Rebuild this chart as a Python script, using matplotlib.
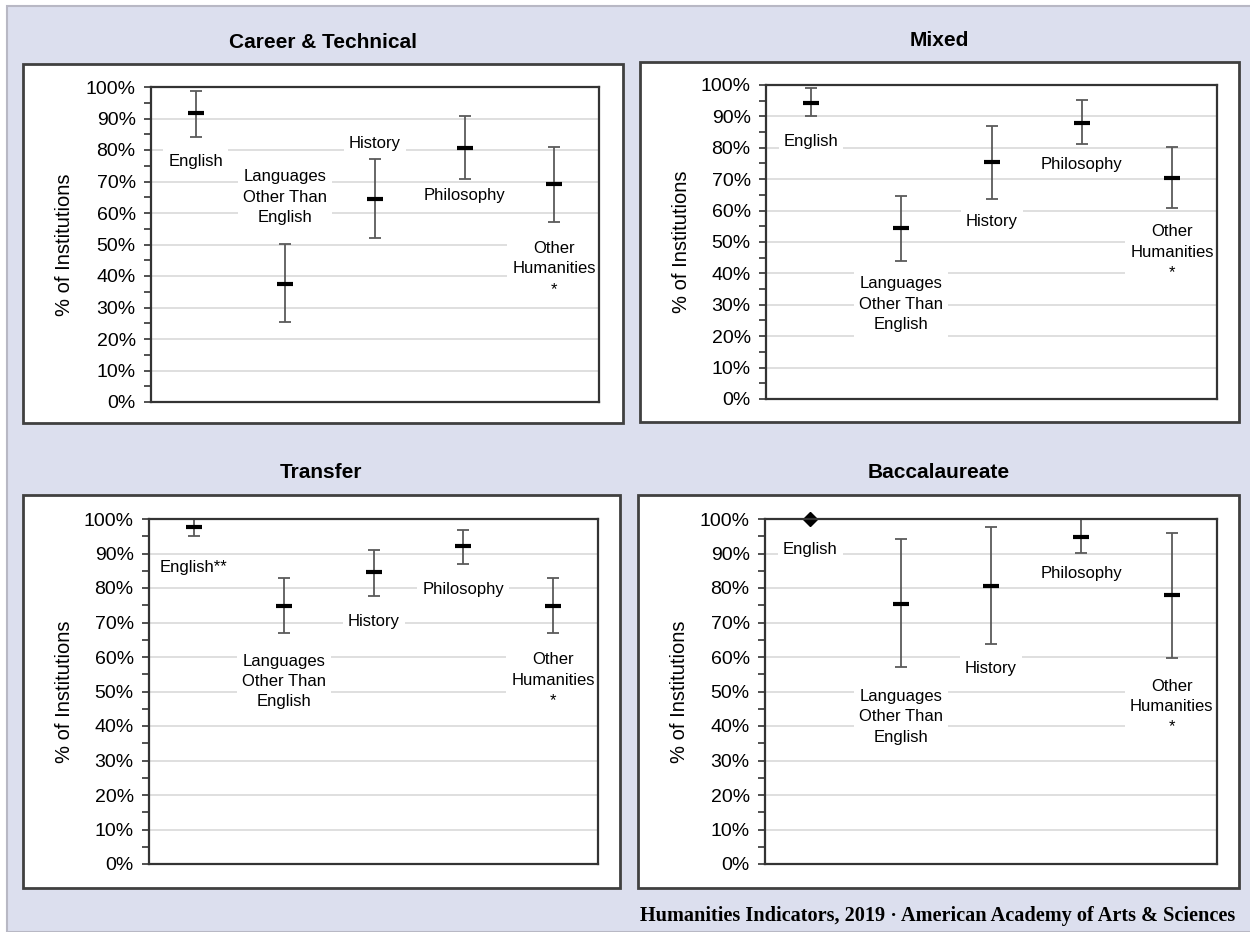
"""Humanities course offerings by institution type, 2x2 error-bar panels."""
import numpy as np
import matplotlib
matplotlib.use("Agg")
import matplotlib.pyplot as plt
from matplotlib.patches import Rectangle
from matplotlib.ticker import MultipleLocator, FuncFormatter

W, H = 1250, 932

subjects = ["English", "Languages\nOther Than\nEnglish", "History",
            "Philosophy", "Other\nHumanities\n*"]
transfer_subjects = ["English**"] + subjects[1:]

career_mean = [91.7, 37.5, 64.4, 80.7, 69.2]
career_low = [84.0, 25.3, 52.1, 70.9, 57.1]
career_high = [98.8, 50.2, 77.0, 90.9, 80.9]

mixed_mean = [94.4, 54.6, 75.5, 88.0, 70.5]
mixed_low = [90.1, 43.8, 63.8, 81.2, 60.8]
mixed_high = [99.0, 64.8, 87.0, 95.1, 80.1]

transfer_mean = [97.6, 74.9, 84.5, 92.2, 74.9]
transfer_low = [95.0, 67.0, 77.8, 87.0, 67.0]
transfer_high = [100.0, 82.8, 90.9, 96.9, 82.8]

bacc_mean = [100.0, 75.3, 80.7, 94.9, 78.1]
bacc_low = [np.nan, 57.1, 63.9, 90.2, 59.8]
bacc_high = [np.nan, 94.1, 97.8, 100.0, 96.0]

# where each data label sits (y, in %)
career_label_y = [76.4, 65.0, 82.2, 65.7, 42.3]
mixed_label_y = [82.0, 30.2, 56.5, 74.8, 46.8]
transfer_label_y = [85.8, 52.9, 70.4, 79.6, 53.3]
bacc_label_y = [91.1, 42.7, 56.7, 84.3, 45.6]

# pixel layout: (title, white box, plot area)
PANELS = [
    ("Career & Technical", (23, 64, 623, 423), (151, 87, 599, 402),
     subjects, career_mean, career_low, career_high, career_label_y),
    ("Mixed", (640, 62, 1239, 422), (766, 85, 1217, 399),
     subjects, mixed_mean, mixed_low, mixed_high, mixed_label_y),
    ("Transfer", (23, 495, 620, 888), (149, 519, 598, 864),
     transfer_subjects, transfer_mean, transfer_low, transfer_high, transfer_label_y),
    ("Baccalaureate", (638, 495, 1239, 888), (765, 519, 1217, 864),
     subjects, bacc_mean, bacc_low, bacc_high, bacc_label_y),
]

FONT = "Liberation Sans"


def frac(x0, y0, x1, y1):
    return [x0 / W, 1 - y1 / H, (x1 - x0) / W, (y1 - y0) / H]


def panel(fig, title, box, area, labels, mean, low, high, label_y):
    bx = frac(*box)
    fig.patches.append(Rectangle(bx[:2], bx[2], bx[3], transform=fig.transFigure,
                                 fc="white", ec="#404040", lw=2, zorder=-1))
    fig.text((box[0] + box[2]) / 2 / W, 1 - (box[1] - 22) / H, title,
             ha="center", va="center", family=FONT, weight="bold", size=15)

    ax = fig.add_axes(frac(*area))
    ax.set_facecolor("white")
    x = np.arange(len(labels)) + 0.5
    mean, low, high = map(np.asarray, (mean, low, high))
    ranged = np.isfinite(low)

    ax.errorbar(x[ranged], mean[ranged],
                yerr=[mean[ranged] - low[ranged], high[ranged] - mean[ranged]],
                fmt="none", ecolor="#5a5a5a", elinewidth=1.3, capsize=4.5,
                capthick=1.3, zorder=4)
    ax.plot(x[ranged], mean[ranged], ls="none", marker="_", ms=12, mew=3,
            color="black", zorder=5)
    ax.plot(x[~ranged], mean[~ranged], ls="none", marker="D", ms=7,
            color="black", zorder=5, clip_on=False)

    for xi, lab, ly in zip(x, labels, label_y):
        ax.text(xi, ly, lab, ha="center", va="center", family=FONT, size=12,
                linespacing=1.45, zorder=3,
                bbox=dict(boxstyle="square,pad=0.3", fc="white", ec="none"))

    ax.set_xlim(0, len(labels))
    ax.set_ylim(0, 100)
    ax.yaxis.set_major_locator(MultipleLocator(10))
    ax.yaxis.set_minor_locator(MultipleLocator(5))
    ax.yaxis.set_major_formatter(FuncFormatter(lambda v, _: f"{v:.0f}%"))
    ax.set_xticks([])
    ax.tick_params(axis="y", which="both", length=5, width=1.2, color="#333333",
                   pad=6, labelsize=14)
    for t in ax.get_yticklabels():
        t.set_family(FONT)
    ax.grid(axis="y", which="major", color="#d9d9d9", lw=1.2)
    ax.set_axisbelow(True)
    for s in ax.spines.values():
        s.set_color("#333333")
        s.set_linewidth(1.6)
        s.set_zorder(6)

    ax.set_ylabel("% of Institutions", family=FONT, size=14.5)
    ax.yaxis.set_label_coords((box[0] + 51 - area[0]) / (area[2] - area[0]), 0.5)


def main():
    fig = plt.figure(figsize=(W / 100, H / 100), dpi=100, facecolor="white")
    fig.patches.append(Rectangle((7 / W, 0), 1, 1 - 6 / H, transform=fig.transFigure,
                                 fc="#dcdfee", ec="#b8b8c4", lw=1.5, zorder=-2))
    for p in PANELS:
        panel(fig, *p)
    fig.text(1235 / W, 1 - 916 / H,
             "Humanities Indicators, 2019 · American Academy of Arts & Sciences",
             ha="right", va="center", family="Liberation Serif", weight="bold",
             size=14.6)
    fig.savefig("out.png", dpi=100, facecolor=fig.get_facecolor())
    plt.close(fig)


if __name__ == "__main__":
    main()
